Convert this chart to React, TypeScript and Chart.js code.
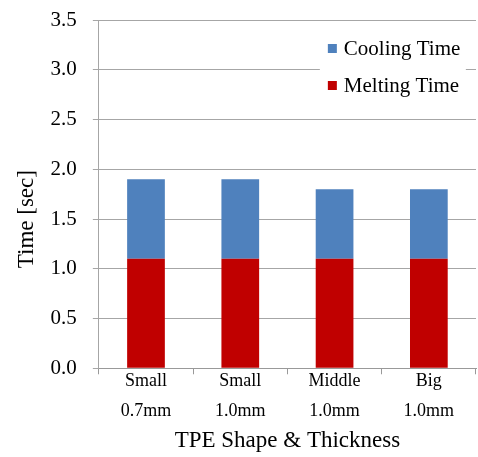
import React, { useEffect, useRef } from "react";
import { Chart, registerables } from "chart.js";

Chart.register(...registerables);

const categories: string[][] = [
  ["Small", "0.7mm"],
  ["Small", "1.0mm"],
  ["Middle", "1.0mm"],
  ["Big", "1.0mm"],
];
const meltingTime = [1.1, 1.1, 1.1, 1.1];
const coolingTime = [0.8, 0.8, 0.7, 0.7];
const seriesNames = ["Melting Time", "Cooling Time"];
const seriesColors = ["#C00000", "#4F81BD"];
const yTitle = "Time [sec]";
const xTitle = "TPE Shape & Thickness";

const FONT = "'Liberation Serif', 'Times New Roman', serif";

const insideLegend = {
  id: "insideLegend",
  afterDraw(chart: any) {
    const ctx = chart.ctx;
    const area = chart.chartArea;
    const items = [
      { label: seriesNames[1], color: seriesColors[1] },
      { label: seriesNames[0], color: seriesColors[0] },
    ];
    const left = area.left + 229;
    ctx.save();
    ctx.fillStyle = "#ffffff";
    ctx.fillRect(left - 8, area.top + 14, 146, 70);
    ctx.font = `21px ${FONT}`;
    ctx.textBaseline = "middle";
    items.forEach((it, i) => {
      const cy = area.top + 28 + i * 37;
      ctx.fillStyle = it.color;
      ctx.fillRect(left, cy - 4, 9, 9);
      ctx.fillStyle = "#000000";
      ctx.fillText(it.label, left + 16, cy + 1);
    });
    // y-axis title
    ctx.translate(27, (area.top + area.bottom) / 2 + 25);
    ctx.rotate(-Math.PI / 2);
    ctx.font = `23px ${FONT}`;
    ctx.textAlign = "center";
    ctx.textBaseline = "middle";
    ctx.fillStyle = "#000000";
    ctx.fillText(yTitle, 0, 0);
    ctx.restore();
  },
};

export default function App() {
  const ref = useRef<HTMLCanvasElement | null>(null);
  useEffect(() => {
    if (!ref.current) return;
    const chart = new Chart(ref.current, {
      type: "bar",
      data: {
        labels: categories,
        datasets: [
          {
            label: seriesNames[0],
            data: meltingTime,
            backgroundColor: seriesColors[0],
            barPercentage: 0.8,
            categoryPercentage: 0.5,
          },
          {
            label: seriesNames[1],
            data: coolingTime,
            backgroundColor: seriesColors[1],
            barPercentage: 0.8,
            categoryPercentage: 0.5,
          },
        ],
      },
      options: {
        animation: false,
        responsive: false,
        layout: { padding: { top: 20, right: 2, left: 34.6, bottom: 0 } },
        plugins: {
          legend: { display: false },
          tooltip: { enabled: false },
        },
        scales: {
          x: {
            stacked: true,
            grid: {
              display: true,
              offset: true,
              drawOnChartArea: false,
              drawTicks: true,
              tickLength: 6,
              color: "#999999",
            },
            border: { color: "#999999", width: 1 },
            ticks: {
              color: "#000000",
              font: { family: FONT, size: 18, lineHeight: 1.67 },
              padding: -8,
              maxRotation: 0,
            },
            title: {
              display: true,
              text: xTitle,
              color: "#000000",
              font: { family: FONT, size: 23 },
              padding: { top: 9, bottom: 2 },
            },
          },
          y: {
            stacked: true,
            min: 0,
            max: 3.5,
            afterFit: (s: any) => {
              s.paddingTop = 0;
              s.paddingBottom = 0;
            },
            ticks: {
              stepSize: 0.5,
              color: "#000000",
              font: { family: FONT, size: 21 },
              padding: 16,
              callback: (v: any) => Number(v).toFixed(1),
            },
            grid: {
              color: "#a6a6a6",
              tickLength: 6,
            },
            border: { color: "#a6a6a6", width: 1 },
            title: { display: false },
          },
        },
      },
      plugins: [insideLegend],
    });
    return () => chart.destroy();
  }, []);
  return (
    <div style={{ position: "absolute", left: 0, top: 0, width: 478, height: 457 }}>
      <canvas ref={ref} width={478} height={457} style={{ width: 478, height: 457 }} />
    </div>
  );
}
